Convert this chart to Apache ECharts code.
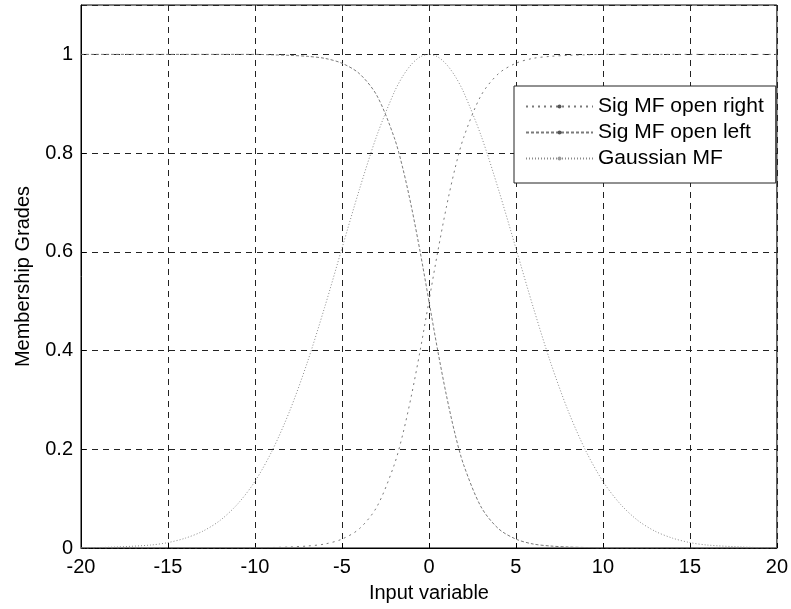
<!DOCTYPE html>
<html>
<head>
<meta charset="utf-8">
<title>Membership functions</title>
<script src="https://cdn.jsdelivr.net/npm/echarts@6/dist/echarts.min.js"></script>
<style>
  html, body { margin: 0; padding: 0; background: #fff; }
  #chart { width: 791px; height: 609px; }
</style>
</head>
<body>
<div id="chart"></div>
<script>
// x positions of the samples
var xs = [-20, -18, -16, -15, -14, -13, -12, -11, -10, -9, -8, -7, -6, -5, -4, -3, -2, -1.5, -1, -0.5,
          0, 0.5, 1, 1.5, 2, 3, 4, 5, 6, 7, 8, 9, 10, 11, 12, 13, 14, 15, 16, 18, 20];

// Sig MF open right (rises to 1 on the right)
var sigRight = [0, 0, 0, 0, 0, 0, 0, 0, 0, 0.001, 0.002, 0.004, 0.008, 0.018, 0.039, 0.083, 0.168, 0.231, 0.31, 0.401,
                0.5, 0.599, 0.69, 0.769, 0.832, 0.917, 0.961, 0.982, 0.992, 0.996, 0.998, 0.999, 1, 1, 1, 1, 1, 1, 1, 1, 1];

// Sig MF open left (1 on the left, falls to 0)
var sigLeft = [1, 1, 1, 1, 1, 1, 1, 1, 1, 0.999, 0.998, 0.996, 0.992, 0.982, 0.961, 0.917, 0.832, 0.769, 0.69, 0.599,
               0.5, 0.401, 0.31, 0.231, 0.168, 0.083, 0.039, 0.018, 0.008, 0.004, 0.002, 0.001, 0, 0, 0, 0, 0, 0, 0, 0, 0];

// Gaussian MF
var gauss = [0, 0.002, 0.006, 0.011, 0.02, 0.034, 0.056, 0.089, 0.135, 0.198, 0.278, 0.375, 0.487, 0.607, 0.726, 0.835, 0.923, 0.956, 0.98, 0.995,
             1, 0.995, 0.98, 0.956, 0.923, 0.835, 0.726, 0.607, 0.487, 0.375, 0.278, 0.198, 0.135, 0.089, 0.056, 0.034, 0.02, 0.011, 0.006, 0.002, 0];

var seriesNames = ['Sig MF open right', 'Sig MF open left', 'Gaussian MF'];

function pairs(ys) {
    return xs.map(function (x, i) { return [x, ys[i]]; });
}

var font = "'Liberation Sans', Arial, sans-serif";
var chart = echarts.init(document.getElementById('chart'));

chart.setOption({
    animation: false,
    grid: {
        left: 81, right: 13, top: 5, bottom: 61,
        show: true,
        borderColor: '#000',
        borderWidth: 1
    },
    legend: {
        orient: 'vertical',
        left: 514,
        top: 86,
        data: seriesNames,
        itemWidth: 67,
        itemHeight: 5,
        itemGap: 5,
        padding: [10, 12, 14, 11],
        borderColor: '#222',
        borderWidth: 1,
        backgroundColor: '#fff',
        textStyle: { fontFamily: font, fontSize: 21, color: '#000', lineHeight: 20 }
    },
    xAxis: {
        type: 'value',
        min: -20, max: 20, interval: 5,
        name: 'Input variable',
        nameLocation: 'middle',
        nameGap: 35,
        nameTextStyle: { fontFamily: font, fontSize: 20, color: '#000' },
        axisLine: { lineStyle: { color: '#000' } },
        axisTick: { inside: true, length: 5, lineStyle: { color: '#000' } },
        axisLabel: { fontFamily: font, fontSize: 20, color: '#000', margin: 9 },
        splitLine: { show: true, lineStyle: { color: '#222', type: [6, 5], width: 1 } }
    },
    yAxis: {
        type: 'value',
        min: 0, max: 1.1, interval: 0.2,
        name: 'Membership Grades',
        nameLocation: 'middle',
        nameGap: 48,
        nameTextStyle: { fontFamily: font, fontSize: 20, color: '#000' },
        axisLine: { onZero: false, lineStyle: { color: '#000' } },
        axisTick: { inside: true, length: 5, lineStyle: { color: '#000' } },
        axisLabel: { fontFamily: font, fontSize: 20, color: '#000', margin: 8, showMaxLabel: false },
        splitLine: { show: true, lineStyle: { color: '#222', type: [6, 5], width: 1 } }
    },
    series: [{
        name: seriesNames[0],
        type: 'line',
        data: pairs(sigRight),
        smooth: 0.3,
        symbol: 'circle',
        showSymbol: false,
        itemStyle: { color: '#555' },
        lineStyle: { color: '#7a7a7a', width: 1, type: [2, 4] }
    }, {
        name: seriesNames[1],
        type: 'line',
        data: pairs(sigLeft),
        smooth: 0.3,
        symbol: 'circle',
        showSymbol: false,
        itemStyle: { color: '#555' },
        lineStyle: { color: '#7a7a7a', width: 1, type: [3, 2] }
    }, {
        name: seriesNames[2],
        type: 'line',
        data: pairs(gauss),
        smooth: 0.3,
        symbol: 'none',
        itemStyle: { color: '#999' },
        lineStyle: { color: '#8a8a8a', width: 1, type: [1, 2] }
    }]
});
</script>
</body>
</html>
